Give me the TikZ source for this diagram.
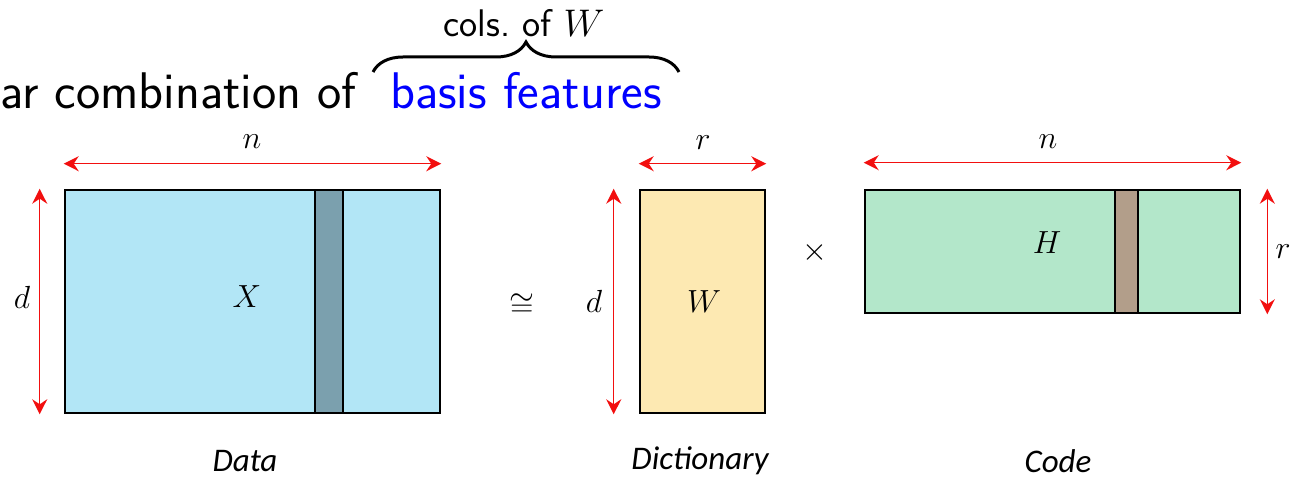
\documentclass[tikz,border=0pt]{standalone}
\usepackage{fix-cm}
\usepackage{fontspec}
\usetikzlibrary{arrows.meta,decorations.pathreplacing}
\newfontfamily\capfont{Carlito}
\definecolor{dataBlue}{HTML}{B2E6F6}
\definecolor{dataCol}{HTML}{7BA0AE}
\definecolor{dictYellow}{HTML}{FDE9B2}
\definecolor{codeGreen}{HTML}{B3E7CA}
\definecolor{codeCol}{HTML}{B29E8A}
\definecolor{dimRed}{HTML}{F20F0F}
\tikzset{
  matbox/.style={draw=black, line width=2.6pt, inner sep=0pt},
  dimarrow/.style={draw=dimRed, line width=1.5pt, {Stealth[length=15pt,width=15pt,inset=5pt]}-{Stealth[length=15pt,width=15pt,inset=5pt]}},
  mlabel/.style={font=\fontsize{32}{38}\selectfont, inner sep=0pt},
  caplabel/.style={font=\fontsize{33}{40}\selectfont\capfont\itshape, inner sep=0pt},
  titletext/.style={font=\fontsize{51.5}{60}\selectfont\sffamily, inner sep=0pt, anchor=base west},
}
\begin{document}
\begin{tikzpicture}[x=1pt,y=-1pt]
\useasboundingbox (0,0) rectangle (1295,478);
% title
\node[titletext] (t1) at (0,109) {ar combination of};
\node[titletext, text={rgb,255:red,0;green,0;blue,255}] (t2) at (390,109) {basis features};
\coordinate (bl) at (373,72);
\coordinate (br) at (679,72);
\draw[line width=3pt, decorate, decoration={brace, amplitude=30pt}] (bl) -- (br);
\node[font=\fontsize{38.5}{44}\selectfont\sffamily, inner sep=0pt, anchor=base] (cols) at (524,37) {cols.\ of $W$};
% Data
\node[matbox, fill=dataBlue, minimum width=375pt, minimum height=223pt] (X) at (252.5,301.5) {};
\node[matbox, fill=dataCol, minimum width=28pt, minimum height=223pt] (Xc) at (329,301.5) {};
\node[mlabel] (Xl) at (247,297) {$X$};
\draw[dimarrow] ([yshift=25pt]X.north west) -- ([yshift=25pt]X.north east);
\node[mlabel] (Xn) at (252,142) {$n$};
\draw[dimarrow] ([xshift=-24pt]X.north west) -- ([xshift=-24pt]X.south west);
\node[mlabel] (Xd) at (22,297) {$d$};
\node[caplabel] (dataLab) at (245,461) {Data};
% approx
\node[mlabel] (approx) at (522,305) {$\cong$};
% Dictionary
\node[matbox, fill=dictYellow, minimum width=125pt, minimum height=223pt] (W) at (702.5,301.5) {};
\node[mlabel] (Wl) at (704,302) {$W$};
\draw[dimarrow] ([yshift=25pt]W.north west) -- ([yshift=25pt]W.north east);
\node[mlabel] (Wr) at (703,143) {$r$};
\draw[dimarrow] ([xshift=-25pt]W.north west) -- ([xshift=-25pt]W.south west);
\node[mlabel] (Wd) at (594,301) {$d$};
\node[caplabel] (dictLab) at (700,461) {Dictionary};
% times
\node[mlabel] (times) at (815,253) {$\times$};
% Code
\node[matbox, fill=codeGreen, minimum width=375pt, minimum height=123pt] (H) at (1052.5,251.5) {};
\node[matbox, fill=codeCol, minimum width=23pt, minimum height=123pt] (Hc) at (1126.5,251.5) {};
\node[mlabel] (Hl) at (1047,243) {$H$};
\draw[dimarrow] ([yshift=26pt]H.north west) -- ([yshift=26pt]H.north east);
\node[mlabel] (Hn) at (1048,142) {$n$};
\draw[dimarrow] ([xshift=26pt]H.north east) -- ([xshift=26pt]H.south east);
\node[mlabel] (Hr) at (1283,252) {$r$};
\node[caplabel] (codeLab) at (1058,461) {Code};
\end{tikzpicture}
\end{document}
